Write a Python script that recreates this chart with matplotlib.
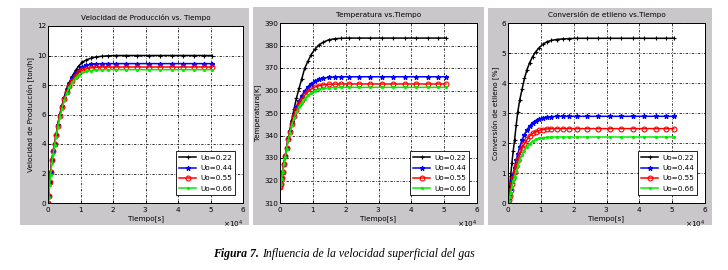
import matplotlib
matplotlib.use("Agg")
import matplotlib.pyplot as plt
from matplotlib.patches import Rectangle
from matplotlib.ticker import ScalarFormatter

# tiempo [s]
t = [0, 200, 500, 800, 1200, 1600, 2000, 2500, 3000, 3600, 4300, 5000, 5800,
     6600, 7500, 8500, 9500, 10600, 11800, 13200, 14800, 16600, 18600, 21000,
     24000, 27500, 31000, 34500, 38000, 41500, 45000, 48000, 50500]

labels = ["Uo=0.22", "Uo=0.44", "Uo=0.55", "Uo=0.66"]

# velocidad de produccion [ton/h]
prod_022 = [0, 0.5, 1.4, 2.1, 2.9, 3.5, 4.0, 4.6, 5.3, 6.0, 6.6, 7.2, 7.8, 8.2, 8.6,
            9.0, 9.3, 9.55, 9.7, 9.82, 9.9, 9.95, 9.98, 10.0, 10.0, 10.0, 10.0,
            10.0, 10.0, 10.0, 10.0, 10.0, 10.0]
prod_044 = [0, 0.5, 1.4, 2.1, 2.9, 3.5, 4.0, 4.6, 5.3, 5.95, 6.55, 7.1, 7.65, 8.05,
            8.45, 8.8, 9.05, 9.22, 9.33, 9.4, 9.43, 9.45, 9.45, 9.45, 9.45, 9.45,
            9.45, 9.45, 9.45, 9.45, 9.45, 9.45, 9.45]
prod_055 = [0, 0.5, 1.4, 2.1, 2.9, 3.5, 4.0, 4.6, 5.25, 5.9, 6.5, 7.05, 7.55, 7.95,
            8.3, 8.6, 8.85, 9.0, 9.1, 9.16, 9.2, 9.22, 9.22, 9.22, 9.22, 9.22,
            9.22, 9.22, 9.22, 9.22, 9.22, 9.22, 9.22]
prod_066 = [0, 0.4, 1.2, 1.9, 2.7, 3.3, 3.9, 4.5, 5.15, 5.8, 6.4, 6.95, 7.45, 7.85,
            8.2, 8.48, 8.7, 8.85, 8.93, 8.98, 9.01, 9.03, 9.04, 9.04, 9.04, 9.04,
            9.04, 9.04, 9.04, 9.04, 9.04, 9.04, 9.04]

# temperatura [K]
temp_022 = [317, 318.5, 321, 324, 327.5, 331, 334.5, 338.5, 342.5, 347, 352, 356.5,
            361, 365, 369.8, 373, 376, 378.3, 380.2, 381.5, 382.5, 383.0, 383.2,
            383.3, 383.3, 383.3, 383.3, 383.3, 383.3, 383.3, 383.3, 383.3, 383.3]
temp_044 = [317, 318.5, 321, 324, 327.5, 331, 334.5, 338.5, 342, 346, 349.5, 352.5,
            355.3, 357.7, 359.8, 361.6, 363, 364.2, 365, 365.5, 365.8, 366, 366.1,
            366.1, 366.1, 366.1, 366.1, 366.1, 366.1, 366.1, 366.1, 366.1, 366.1]
temp_055 = [317, 318.5, 321, 324, 327.5, 331, 334.5, 338.3, 341.7, 345.3, 348.5,
            351.3, 353.8, 355.9, 357.8, 359.4, 360.6, 361.5, 362.1, 362.5, 362.75,
            362.85, 362.9, 362.9, 362.9, 362.9, 362.9, 362.9, 362.9, 362.9, 362.9,
            362.9, 362.9]
temp_066 = [317, 318.3, 320.8, 323.7, 327.2, 330.6, 334, 337.8, 341.2, 344.7, 347.8,
            350.4, 352.7, 354.6, 356.3, 357.8, 358.9, 359.8, 360.5, 360.9, 361.2,
            361.3, 361.4, 361.4, 361.4, 361.4, 361.4, 361.4, 361.4, 361.4, 361.4,
            361.4, 361.4]

# conversion de etileno [%]
conv_022 = [0, 0.2, 0.55, 0.9, 1.35, 1.75, 2.1, 2.6, 3.05, 3.45, 3.8, 4.15, 4.45,
            4.68, 4.88, 5.05, 5.18, 5.29, 5.37, 5.42, 5.45, 5.47, 5.48, 5.49, 5.49,
            5.49, 5.49, 5.49, 5.49, 5.49, 5.49, 5.49, 5.49]
conv_044 = [0, 0.12, 0.3, 0.5, 0.75, 0.98, 1.18, 1.42, 1.64, 1.88, 2.1, 2.28, 2.44,
            2.57, 2.67, 2.75, 2.8, 2.84, 2.86, 2.88, 2.89, 2.89, 2.89, 2.89, 2.89,
            2.89, 2.89, 2.89, 2.89, 2.89, 2.89, 2.89, 2.89]
conv_055 = [0, 0.1, 0.25, 0.42, 0.64, 0.84, 1.02, 1.22, 1.42, 1.63, 1.82, 1.98,
            2.12, 2.23, 2.32, 2.38, 2.42, 2.45, 2.47, 2.48, 2.48, 2.48, 2.48, 2.48,
            2.48, 2.48, 2.48, 2.48, 2.48, 2.48, 2.48, 2.48, 2.48]
conv_066 = [0, 0.08, 0.2, 0.35, 0.54, 0.72, 0.88, 1.06, 1.24, 1.43, 1.6, 1.75, 1.88,
            1.98, 2.06, 2.12, 2.16, 2.18, 2.19, 2.2, 2.2, 2.2, 2.2, 2.2, 2.2, 2.2,
            2.2, 2.2, 2.2, 2.2, 2.2, 2.2, 2.2]

colores = ["black", "#0000ff", "#ff0000", "#00ee00"]
marcas = ["+", "*", "o", "."]

W, H = 728, 270
fig = plt.figure(figsize=(W / 100, H / 100), dpi=100)
fig.patch.set_facecolor("white")

def px(x0, y0, x1, y1):
    return [x0 / W, 1 - y1 / H, (x1 - x0) / W, (y1 - y0) / H]

# fondos grises de cada ventana
for x0, y0, x1, y1 in [(20, 8, 249, 225), (253, 7, 484, 225), (488, 8, 712, 225)]:
    r = px(x0, y0, x1, y1)
    fig.patches.append(Rectangle((r[0], r[1]), r[2], r[3], transform=fig.transFigure,
                                 facecolor="#c9c7c9", edgecolor="none", zorder=-5))

paneles = [
    (px(48, 26, 243, 203), [prod_022, prod_044, prod_055, prod_066], (0, 12),
     range(0, 13, 2), "Velocidad de Producción vs. Tiempo",
     "Velocidad de Producción [ton/h]"),
    (px(280, 23, 477, 203), [temp_022, temp_044, temp_055, temp_066], (310, 390),
     range(310, 391, 10), "Temperatura vs.Tiempo", "Temperatura[K]"),
    (px(508, 23, 705, 203), [conv_022, conv_044, conv_055, conv_066], (0, 6),
     range(0, 7), "Conversión de etileno vs.Tiempo", "Conversión de etileno [%]"),
]

fs = 5.2
for rect, series, ylim, yt, titulo, ylab in paneles:
    ax = fig.add_axes(rect)
    for y, c, m, lab in zip(series, colores, marcas, labels):
        ms = 3.5 if m != "." else 3
        ax.plot(t, y, color=c, marker=m, markersize=ms, lw=1.1, label=lab,
                markerfacecolor="none" if m == "o" else c, markeredgewidth=0.8)
    ax.set_xlim(0, 60000)
    ax.set_ylim(*ylim)
    ax.set_xticks(range(0, 60001, 10000))
    ax.set_yticks(list(yt))
    fmt = ScalarFormatter(useMathText=True)
    fmt.set_powerlimits((0, 0))
    ax.xaxis.set_major_formatter(fmt)
    ax.xaxis.get_offset_text().set_fontsize(fs)
    ax.tick_params(labelsize=fs, length=2, width=0.6, pad=1.5, direction="in")
    ax.grid(True, color="black", linestyle=(0, (3, 2, 1, 2)), lw=0.55)
    for s in ax.spines.values():
        s.set_linewidth(0.7)
    ax.set_title(titulo, fontsize=fs, pad=4)
    ax.set_xlabel("Tiempo[s]", fontsize=fs, labelpad=1)
    ax.set_ylabel(ylab, fontsize=fs, labelpad=2)
    leg = ax.legend(loc="lower right", fontsize=fs, fancybox=False, framealpha=1,
                    edgecolor="black", handlelength=2.4, handletextpad=0.5,
                    borderaxespad=1.1, labelspacing=0.6, borderpad=0.45)
    leg.get_frame().set_linewidth(0.6)

# pie de figura
t1 = fig.text(213 / W, 1 - 257 / H, "Figura 7.", family="Liberation Serif",
              style="italic", weight="bold", fontsize=8.5, va="baseline")
fig.canvas.draw()
bb = t1.get_window_extent()
fig.text(bb.x1 / W + 3 / W, 1 - 257 / H,
         "Influencia de la velocidad superficial del gas", family="Liberation Serif",
         style="italic", fontsize=8.5, va="baseline")

fig.savefig("out.png", dpi=100)
